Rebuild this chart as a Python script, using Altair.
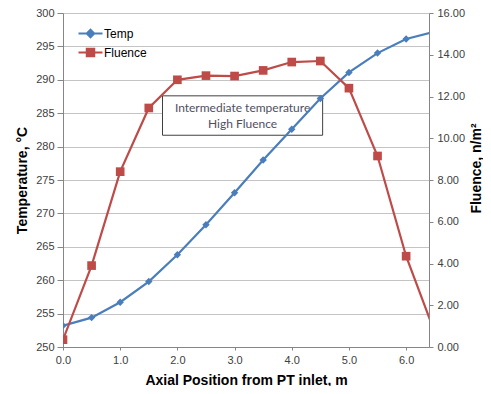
import altair as alt
import pandas as pd

# ---- data ----
positions = [0.0, 0.5, 1.0, 1.5, 2.0, 2.5, 3.0, 3.5, 4.0, 4.5, 5.0, 5.5, 6.0, 6.5]
temperature = [253.2, 254.4, 256.7, 259.8, 263.8, 268.3, 273.1, 278.0, 282.6, 287.2, 291.1, 294.0, 296.1, 297.2]
fluence = [0.35, 3.9, 8.4, 11.45, 12.8, 13.0, 12.98, 13.25, 13.65, 13.7, 12.4, 9.15, 4.35, 0.7]

series_names = ["Temp", "Fluence"]
series_colors = ["#4A7EBB", "#BE4B48"]
# legend symbols: a short line with the marker on it
series_symbols = [
    "M-1.6,0L1.6,0M0,-0.5L0.5,0L0,0.5L-0.5,0Z",
    "M-1.6,0L1.6,0M-0.5,-0.5L0.5,-0.5L0.5,0.5L-0.5,0.5Z",
]

note_lines = ["Intermediate temperature", "High Fluence"]
note_line_y = [285.75, 283.35]
note_text_x = 3.14
note_box_x = [1.74, 4.54]
note_box_y = [281.7, 287.6]

x_ticks = [0, 1, 2, 3, 4, 5, 6]
temp_ticks = [250, 255, 260, 265, 270, 275, 280, 285, 290, 295, 300]
flu_ticks = [0, 2, 4, 6, 8, 10, 12, 14, 16]

df = pd.DataFrame({"pos": positions, "temp": temperature, "flu": fluence})
box_df = pd.DataFrame({"x1": [note_box_x[0]], "x2": [note_box_x[1]],
                       "y1": [note_box_y[0]], "y2": [note_box_y[1]]})
text_df = pd.DataFrame({"x": [note_text_x] * 2, "y": note_line_y, "t": note_lines})
legend_df = pd.DataFrame({"series": series_names})

FONT = "Liberation Sans"
AXIS_GRAY = "#868686"
LABEL_COLOR = "#404040"

x_scale = alt.Scale(domain=[0, 6.4], nice=False, zero=False)
temp_scale = alt.Scale(domain=[250, 300], nice=False, zero=False)
flu_scale = alt.Scale(domain=[0, 16], nice=False)

x_axis = alt.Axis(values=x_ticks, format=".1f", grid=False, tickSize=3, labelPadding=4,
                  labelFlush=False, labelOverlap=False,
                  title="Axial Position from PT inlet, m", titleFontSize=14,
                  titleFontWeight="bold", titleFont=FONT, titleColor="#000000",
                  titlePadding=8, labelFont=FONT, labelFontSize=11,
                  labelColor=LABEL_COLOR, domainColor=AXIS_GRAY, tickColor=AXIS_GRAY)

temp_axis = alt.Axis(values=temp_ticks, tickCount=11, format="d", grid=True,
                     gridColor="#C4C4C4", labelOverlap=False,
                     tickSize=6, labelPadding=3, labelFont=FONT, labelFontSize=11,
                     labelColor=LABEL_COLOR, domainColor=AXIS_GRAY, tickColor=AXIS_GRAY,
                     title="Temperature, °C", titleFontSize=14, titleFontWeight="bold",
                     titleFont=FONT, titleColor="#000000", titleX=-41, titleY=167,
                     titleAngle=270, titleAlign="center", titleBaseline="middle")

flu_axis = alt.Axis(orient="right", values=flu_ticks, format=".2f", grid=False,
                    labelOverlap=False,
                    tickSize=4, labelPadding=4, labelFont=FONT, labelFontSize=11,
                    labelColor=LABEL_COLOR, domainColor=AXIS_GRAY, tickColor=AXIS_GRAY,
                    title="Fluence, n/m²", titleFontSize=14, titleFontWeight="bold",
                    titleFont=FONT, titleColor="#000000", titleX=47, titleY=155,
                    titleAngle=270, titleAlign="center", titleBaseline="middle")

base = alt.Chart(df)
X = alt.X("pos:Q", scale=x_scale, axis=x_axis)
YT = alt.Y("temp:Q", scale=temp_scale, axis=temp_axis)
YF = alt.Y("flu:Q", scale=flu_scale, axis=flu_axis)

box = alt.Chart(box_df).mark_rect(fill="white", stroke="#404040", strokeWidth=1).encode(
    x=alt.X("x1:Q", scale=x_scale, axis=x_axis), x2="x2:Q",
    y=alt.Y("y1:Q", scale=temp_scale, axis=temp_axis), y2="y2:Q")

note = alt.Chart(text_df).mark_text(font="Lato", fontSize=12, color="#4F4F5F",
                                    align="center", baseline="middle").encode(
    x=alt.X("x:Q", scale=x_scale, axis=x_axis),
    y=alt.Y("y:Q", scale=temp_scale, axis=temp_axis), text="t")

temp_line = base.mark_line(color=series_colors[0], strokeWidth=2.2, clip=True).encode(
    x=X, y=YT)
temp_pts = base.mark_point(shape="diamond", filled=True, size=55, opacity=1,
                           color=series_colors[0], clip=True).encode(x=X, y=YT)

legend_layer = alt.Chart(legend_df).transform_filter("false").mark_point(
    filled=True, size=225, opacity=1).encode(
    x=alt.value(0), y=alt.value(0),
    fill=alt.Fill("series:N", scale=alt.Scale(domain=series_names, range=series_colors),
                  legend=alt.Legend(title=None)),
    stroke=alt.Stroke("series:N", scale=alt.Scale(domain=series_names, range=series_colors),
                      legend=alt.Legend(title=None)),
    shape=alt.Shape("series:N", scale=alt.Scale(domain=series_names, range=series_symbols),
                    legend=alt.Legend(title=None)),
)

left = alt.layer(box, note, temp_line, temp_pts, legend_layer)

flu_line = base.mark_line(color=series_colors[1], strokeWidth=2.2, clip=True).encode(
    x=X, y=YF)
flu_pts = base.mark_square(size=75, opacity=1, color=series_colors[1], clip=True).encode(
    x=X, y=YF)
right = alt.layer(flu_line, flu_pts)

chart = alt.layer(left, right).resolve_scale(y="independent").properties(
    width=366, height=334,
    autosize=alt.AutoSizeParams(type="none"),
    padding={"left": 55, "top": 5, "right": 54, "bottom": 39},
).configure_view(stroke=None).configure_legend(
    orient="none", legendX=19, legendY=12, padding=0, rowPadding=2,
    symbolStrokeWidth=2, symbolOpacity=1, labelFont=FONT, labelFontSize=12,
    labelColor="#000000", labelOffset=5, symbolSize=225,
)

chart.save("out.html", embed_options={"renderer": "svg", "actions": False})
